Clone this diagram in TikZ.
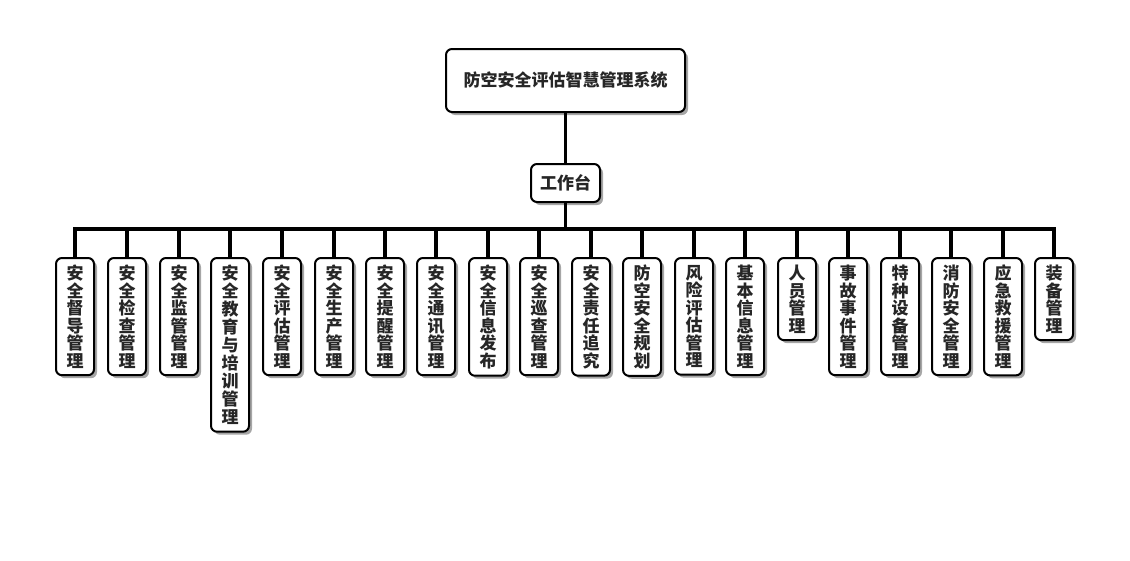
\documentclass[tikz,border=0pt]{standalone}
\usepackage{fontspec}
\setmainfont{Noto Sans CJK SC}
\usetikzlibrary{shadows}
\begin{document}
\begin{tikzpicture}[x=1pt,y=-1pt,
  box/.style={draw=black, line width=2pt, rounded corners=6pt, fill=white,
    drop shadow={shadow xshift=3pt, shadow yshift=-3pt, fill=black, opacity=0.35},
    font=\bfseries\fontsize{17}{17.5}\selectfont, text=black!85},
  leaf/.style={box, anchor=north, align=center, minimum width=38pt, inner xsep=2pt, inner ysep=7pt},
  conn/.style={line width=3.5pt, draw=black}]
\useasboundingbox (0,0) rectangle (1130,560);
\node[box, minimum width=239pt, minimum height=63pt] (root) at (565.5,80.5) {防空安全评估智慧管理系统};
\node[box, minimum width=69pt, minimum height=38pt, inner sep=2pt] (wb) at (565.5,183) {工作台};
\coordinate (bus) at (565.5,229);
\foreach \i/\x/\t in {1/75/{安\\全\\督\\导\\管\\理},
  2/127/{安\\全\\检\\查\\管\\理},
  3/179/{安\\全\\监\\管\\管\\理},
  5/282/{安\\全\\评\\估\\管\\理},
  6/334/{安\\全\\生\\产\\管\\理},
  7/385/{安\\全\\提\\醒\\管\\理},
  8/436/{安\\全\\通\\讯\\管\\理},
  9/488/{安\\全\\信\\息\\发\\布},
  10/539/{安\\全\\巡\\查\\管\\理},
  11/591/{安\\全\\责\\任\\追\\究},
  12/642/{防\\空\\安\\全\\规\\划},
  13/694/{风\\险\\评\\估\\管\\理},
  14/745/{基\\本\\信\\息\\管\\理},
  15/797/{人\\员\\管\\理},
  16/848/{事\\故\\事\\件\\管\\理},
  17/900/{特\\种\\设\\备\\管\\理},
  18/951/{消\\防\\安\\全\\管\\理},
  19/1003/{应\\急\\救\\援\\管\\理},
  20/1054/{装\\备\\管\\理}}
  {\node[leaf] (l\i) at (\x,257) {\t};}
\node[leaf, font=\bfseries\fontsize{17}{18}\selectfont] (l4) at (230,257) {安\\全\\教\\育\\与\\培\\训\\管\\理};
\draw[conn] (root.south) -- (wb.north);
\draw[conn] (wb.south) -- (bus);
\foreach \i in {1,...,20}{\draw[conn] (l\i.north) |- (bus);}
\end{tikzpicture}
\end{document}
